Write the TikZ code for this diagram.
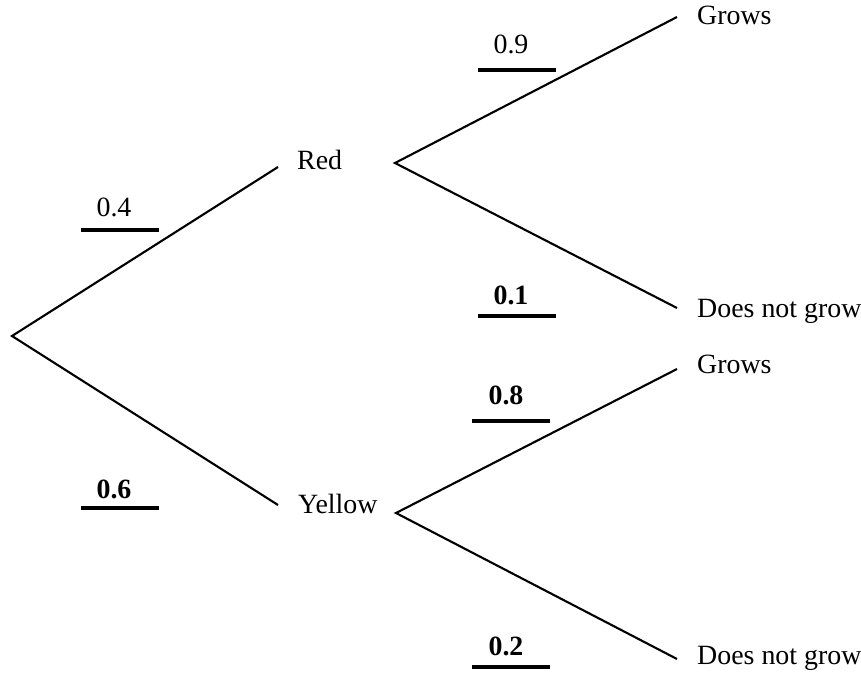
\documentclass[tikz,border=0pt]{standalone}
\usepackage{fontspec}
\setmainfont{Liberation Serif}
\usepackage{tikz}

\begin{document}
\begin{tikzpicture}[x=0.03cm,y=-0.03cm,
    branch/.style={line width=1.8pt},
    bar/.style={line width=2.6pt},
    word/.style={inner sep=0pt,anchor=base west,font=\fontsize{23.8}{28}\selectfont},
    prob/.style={inner sep=0pt,anchor=base,font=\fontsize{23.8}{28}\selectfont}]
    \useasboundingbox (0,0) rectangle (861,677);
    % branch points
    \coordinate (start) at (12,336);
    \coordinate (redend) at (278,167);
    \coordinate (yelend) at (278,505);
    \coordinate (redfork) at (395,163);
    \coordinate (yelfork) at (396,513);
    \coordinate (rgrow) at (677,17);
    \coordinate (rnogrow) at (677,308);
    \coordinate (ygrow) at (677,369);
    \coordinate (ynogrow) at (677,659);
    % outcomes
    \node[word] (red) at (297,170) {Red};
    \node[word] (yellow) at (298,513) {Yellow};
    \node[word] (redgrows) at (697,25) {Grows};
    \node[word] (rednot) at (697,317) {Does not grow};
    \node[word] (yelgrows) at (697,373) {Grows};
    \node[word] (yelnot) at (697,664) {Does not grow};
    % branches
    \draw[branch] (redend) -- (start) -- (yelend);
    \draw[branch] (rgrow) -- (redfork) -- (rnogrow);
    \draw[branch] (ygrow) -- (yelfork) -- (ynogrow);
    % probabilities
    \node[prob] (pred) at (114,217) {0.4};
    \draw[bar] (81,230) -- (159,230);
    \node[prob,font=\fontsize{23.8}{28}\selectfont\bfseries] (pyel) at (114,498) {0.6};
    \draw[bar] (81,508) -- (159,508);
    \node[prob] (prg) at (511,54) {0.9};
    \draw[bar] (478,70) -- (556,70);
    \node[prob,font=\fontsize{23.8}{28}\selectfont\bfseries] (prn) at (511,304) {0.1};
    \draw[bar] (478,316) -- (556,316);
    \node[prob,font=\fontsize{23.8}{28}\selectfont\bfseries] (pyg) at (506,404) {0.8};
    \draw[bar] (472,421) -- (550,421);
    \node[prob,font=\fontsize{23.8}{28}\selectfont\bfseries] (pyn) at (506,655) {0.2};
    \draw[bar] (472,667) -- (550,667);
\end{tikzpicture}
\end{document}
